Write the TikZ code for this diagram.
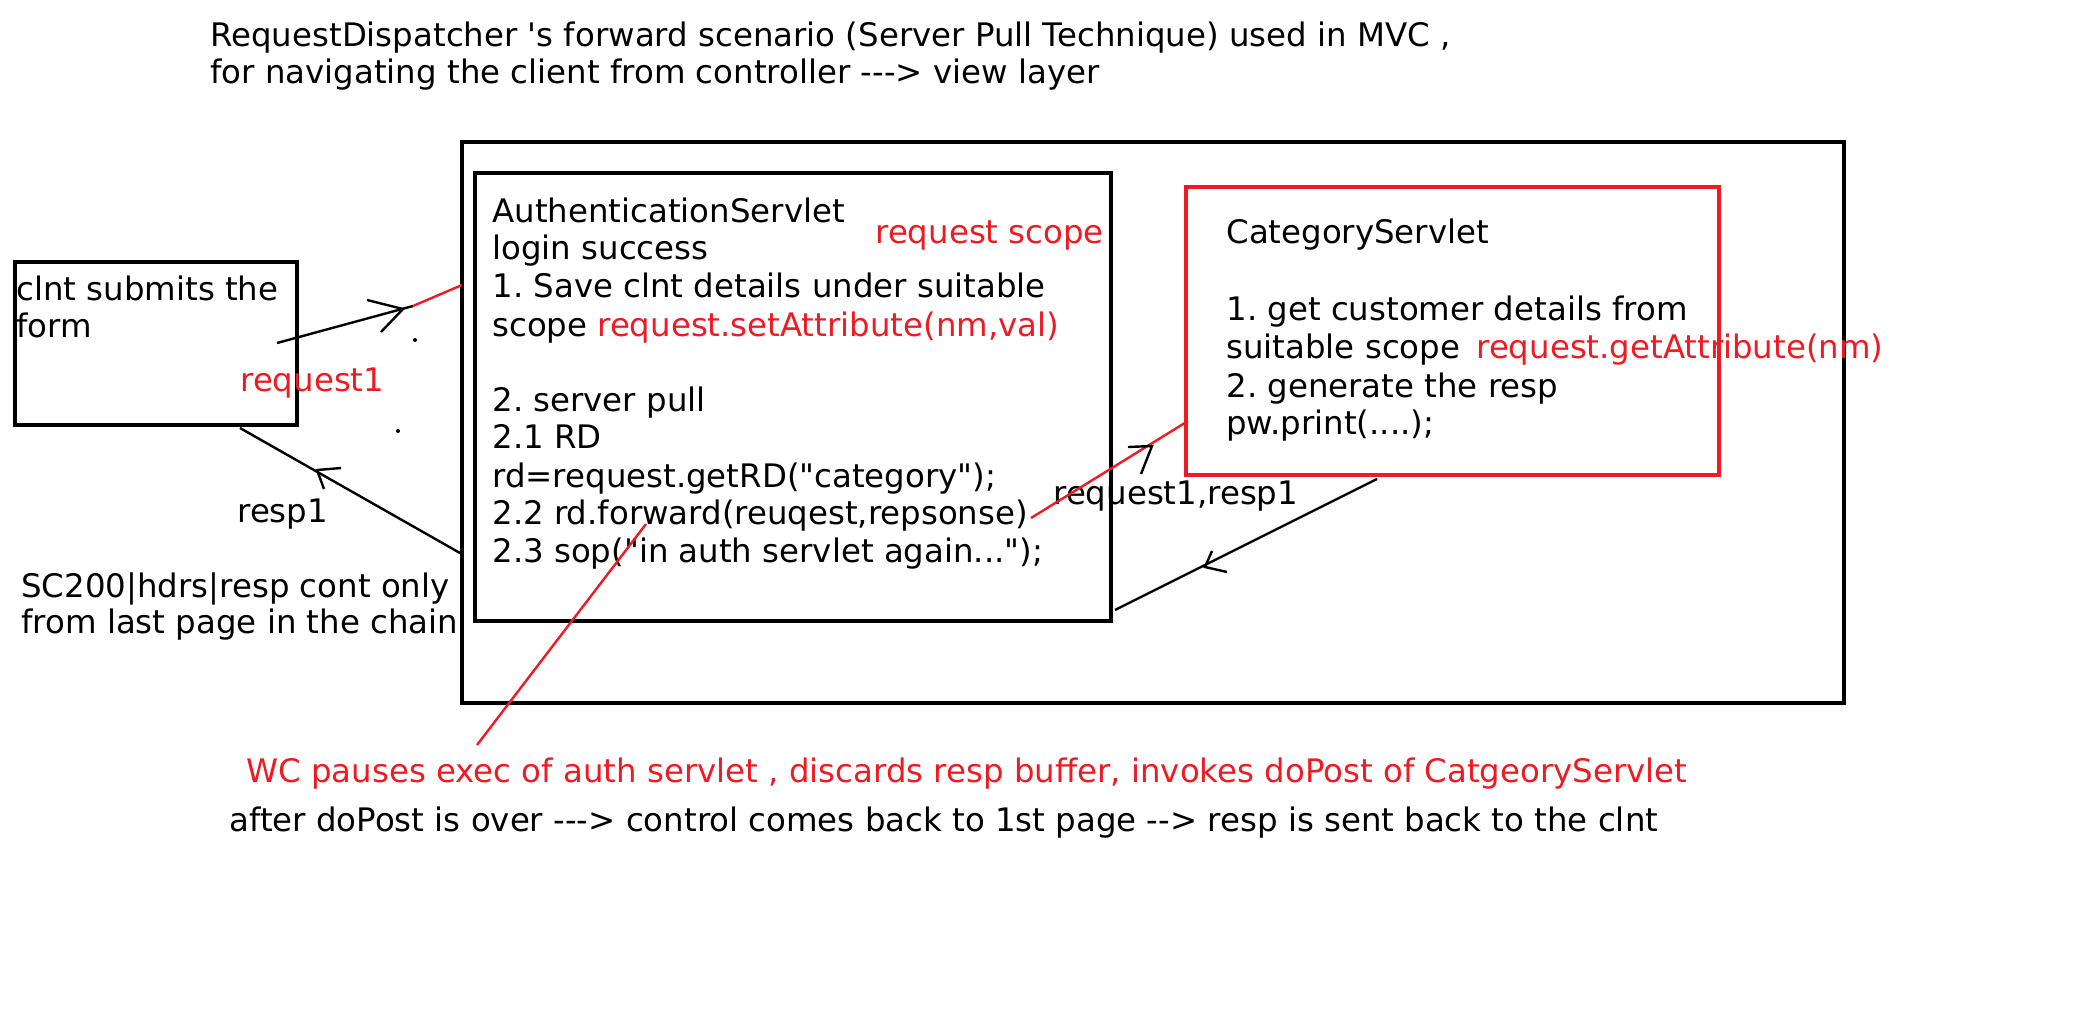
\documentclass[tikz,border=0pt]{standalone}
\usepackage{fontspec}
\newfontfamily\df{DejaVu Sans}
\definecolor{pred}{RGB}{237,28,36}
\frenchspacing
\begin{document}
\begin{tikzpicture}[x=0.5pt,y=-0.5pt,
  txt/.style={anchor=base west, inner sep=0pt, font=\df\fontsize{16.2}{19}\selectfont},
  rtxt/.style={txt, text=pred},
  bx/.style={draw=black, line width=1.6pt, inner sep=0pt},
  rbx/.style={draw=pred, line width=1.6pt, inner sep=0pt},
  conn/.style={line width=1.2pt, black},
  rconn/.style={line width=1.2pt, pred},
  headstroke/.style={line width=1.2pt, black}]
\useasboundingbox[fill=white] (0,0) rectangle (2076,1008);

% boxes
\node[bx, minimum width=691pt, minimum height=280.5pt] (outer) at (1153,422.5) {};
\node[bx, minimum width=318pt, minimum height=224pt] (auth) at (793,397) {};
\node[rbx, minimum width=266.5pt, minimum height=144pt] (cat) at (1452.5,331) {};
\node[bx, minimum width=141pt, minimum height=81.5pt] (client) at (156,343.5) {};

% title
\node[txt] (t1) at (210,46) {RequestDispatcher 's forward scenario (Server Pull Technique) used in MVC ,};
\node[txt] (t2) at (210,83) {for navigating the client from controller -\kern0pt-\kern0pt-> view layer};

% client
\node[txt] (c1) at (16,300) {clnt submits the};
\node[txt] (c2) at (16,337) {form};
\node[rtxt] (req1) at (240,391) {request1};
\node[txt] (resp1) at (237,522) {resp1};
\node[txt] (sc1) at (21,597) {SC200|hdrs|resp cont only};
\node[txt] (sc2) at (21,633) {from last page in the chain};

% auth servlet
\node[txt] (a1) at (492,222) {AuthenticationServlet};
\node[txt] (a2) at (492,259) {login success};
\node[txt] (a3) at (492,297) {1. Save clnt details under suitable};
\node[txt] (a4) at (492,336) {scope};
\node[rtxt] (a4r) at (597,336) {request.setAttribute(nm,val)};
\node[txt] (a5) at (492,411) {2. server pull};
\node[txt] (a6) at (492,448) {2.1 RD};
\node[txt] (a7) at (492,487) {rd=request.getRD("category");};
\node[txt] (a8) at (492,524) {2.2 rd.forward(reuqest,repsonse)};
\node[txt] (a9) at (492,562) {2.3 sop("in auth servlet again...");};
\node[rtxt] (rscope) at (875,243) {request scope};

% category servlet
\node[txt] (k1) at (1226,243) {CategoryServlet};
\node[txt] (k2) at (1226,320) {1. get customer details from};
\node[txt] (k3) at (1226,358) {suitable scope};
\node[rtxt] (k3r) at (1476,358) {request.getAttribute(nm)};
\node[txt] (k4) at (1226,397) {2. generate the resp};
\node[txt] (k5) at (1226,434) {pw.print(....);};
\node[txt] (rr) at (1053,504) {request1,resp1};

% bottom notes
\node[rtxt] (n1) at (246,782) {WC pauses exec of auth servlet , discards resp buffer, invokes doPost of CatgeoryServlet};
\node[txt] (n2) at (229,831) {after doPost is over -\kern0pt-\kern0pt-> control comes back to 1st page -\kern0pt-> resp is sent back to the clnt};

% connector points
\coordinate (rqA) at (277,343); \coordinate (rqB) at (413,306); \coordinate (rqC) at (462,285);
\coordinate (rqT) at (403,309); \coordinate (rqH1) at (367,300); \coordinate (rqH2) at (381,332);
\coordinate (rsA) at (460,553); \coordinate (rsB) at (240,428);
\coordinate (rsT) at (317,470); \coordinate (rsH1) at (341,468); \coordinate (rsH2) at (324,489);
\coordinate (fwA) at (1031,518); \coordinate (fwB) at (1188,421);
\coordinate (fwT) at (1152,446); \coordinate (fwH1) at (1128,447); \coordinate (fwH2) at (1141,474);
\coordinate (rtA) at (1377,479); \coordinate (rtB) at (1115,610);
\coordinate (rtT) at (1205,567); \coordinate (rtH1) at (1227,572); \coordinate (rtH2) at (1212,551);
\coordinate (ntA) at (646,524); \coordinate (ntB) at (477,745);
\coordinate (d1) at (415,340); \coordinate (d2) at (398,431);

% connectors
\draw[conn] (rqA) -- (rqB);
\draw[rconn] (rqB) -- (rqC);
\draw[headstroke] (rqH1) -- (rqT) -- (rqH2);
\draw[conn] (rsA) -- (rsB);
\draw[headstroke] (rsH1) -- (rsT) -- (rsH2);
\draw[rconn] (fwA) -- (fwB);
\draw[headstroke] (fwH1) -- (fwT) -- (fwH2);
\draw[conn] (rtA) -- (rtB);
\draw[headstroke] (rtH1) -- (rtT) -- (rtH2);
\draw[rconn] (ntA) -- (ntB);
\fill (d1) circle (2);
\fill (d2) circle (2);
\end{tikzpicture}
\end{document}
